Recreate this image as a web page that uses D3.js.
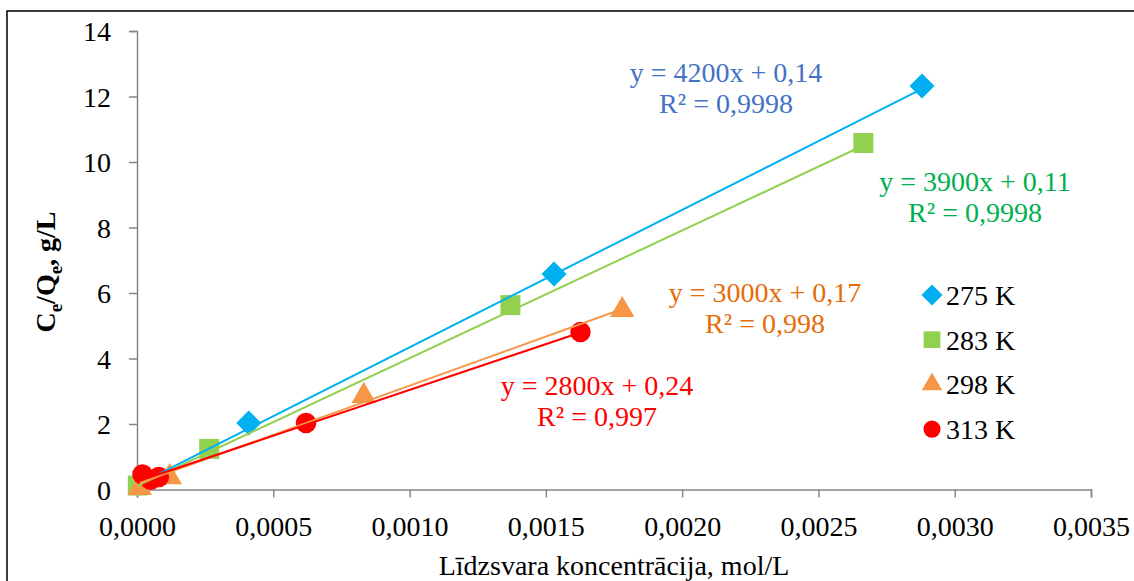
<!DOCTYPE html>
<html>
<head>
<meta charset="utf-8">
<script src="https://cdn.jsdelivr.net/npm/d3@7"></script>
<style>
  body { margin: 0; background: #fff; }
  svg { display: block; font-family: "Liberation Serif", "Times New Roman", serif; }
</style>
</head>
<body>
<div id="chart"></div>
<script>
/* séries : température, concentration d'équilibre, Ce/Qe */
let series = ['275 K', '283 K', '298 K', '313 K'];
let x275 = [0.00003, 0.00041, 0.00153, 0.00288];
let y275 = [0.30, 2.03, 6.58, 12.32];
let x283 = [0.000003, 0.000265, 0.00137, 0.002665];
let y283 = [0.12, 1.24, 5.63, 10.58];
let x298 = [0.00001, 0.00012, 0.000832, 0.00178];
let y298 = [0.05, 0.38, 2.86, 5.48];
let x313 = [0.00002, 0.00008, 0.00005, 0.00062, 0.001627];
let y313 = [0.46, 0.38, 0.30, 2.03, 4.81];

/* droites de tendance */
let slopes = [4200, 3900, 3000, 2800];
let intercepts = [0.14, 0.11, 0.17, 0.24];
let equations = ['y = 4200x + 0,14', 'y = 3900x + 0,11', 'y = 3000x + 0,17', 'y = 2800x + 0,24'];
let rSquared = ['R² = 0,9998', 'R² = 0,9998', 'R² = 0,998', 'R² = 0,997'];

let xTicks = [0, 0.0005, 0.0010, 0.0015, 0.0020, 0.0025, 0.0030, 0.0035];
let yTicks = [0, 2, 4, 6, 8, 10, 12, 14];

let xs = [x275, x283, x298, x313];
let ys = [y275, y283, y298, y313];
let markerColors = ['#00B0F0', '#92D050', '#F79646', '#FF0000'];
let textColors = ['#4472C4', '#00B050', '#E46C0A', '#FF0000'];
let symbols = [d3.symbolDiamond2, d3.symbolSquare, d3.symbolTriangle, d3.symbolCircle];
let symbolSizes = [400, 400, 260, 330];

let width = 1134,
    height = 581;

let svg = d3.select('#chart').
append('svg').
attr('width', width).
attr('height', height);

/* cadre */
svg.append('rect').
attr('x', 7).
attr('y', 11).
attr('width', 1160).
attr('height', 620).
style('fill', 'none').
style('stroke', '#000').
style('stroke-width', 1.5);

let xScale = d3.scaleLinear().
domain([0, 0.0035]).
range([137, 1091]);

let yScale = d3.scaleLinear().
domain([0, 14]).
range([489.5, 31]);

/* axes */
let xAxis = d3.axisBottom(xScale).
tickValues(xTicks).
tickSize(8).
tickPadding(19).
tickFormat((d) => d.toFixed(4).replace('.', ','));

let xAxisGroup = svg.append('g').
attr('transform', 'translate(0,' + yScale(0) + ')').
call(xAxis);

let yAxis = d3.axisLeft(yScale).
tickValues(yTicks).
tickSize(8).
tickPadding(18).
tickFormat((d) => d);

let yAxisGroup = svg.append('g').
attr('transform', 'translate(' + xScale(0) + ',0)').
call(yAxis);

[xAxisGroup, yAxisGroup].forEach((g) => {
  g.select('.domain').style('stroke', '#868686').style('stroke-width', 1.5);
  g.selectAll('.tick line').style('stroke', '#868686').style('stroke-width', 1.5);
  g.selectAll('.tick text').
  style('font-family', '"Liberation Serif", serif').
  style('font-size', '28px').
  style('fill', '#000');
});
yAxisGroup.selectAll('.tick text').attr('dy', '0.34em');

/* points */
series.forEach((name, s) => {
  svg.append('g').
  selectAll('path').
  data(xs[s]).
  enter().
  append('path').
  attr('transform', (d, i) => 'translate(' + xScale(d) + ',' + yScale(ys[s][i]) + ')').
  attr('d', d3.symbol().type(symbols[s]).size(symbolSizes[s])).
  style('fill', markerColors[s]);
});

/* droites de tendance */
series.forEach((name, s) => {
  let x0 = d3.min(xs[s]),
      x1 = d3.max(xs[s]);
  svg.append('line').
  attr('x1', xScale(x0)).
  attr('y1', yScale(slopes[s] * x0 + intercepts[s])).
  attr('x2', xScale(x1)).
  attr('y2', yScale(slopes[s] * x1 + intercepts[s])).
  style('stroke', markerColors[s]).
  style('stroke-width', 2);
});

/* équations */
let eqPos = [[726, 82], [975, 191], [765, 302], [597, 395]];
series.forEach((name, s) => {
  let t = svg.append('text').
  attr('text-anchor', 'middle').
  style('font-size', '28px').
  style('fill', textColors[s]);
  t.append('tspan').
  attr('x', eqPos[s][0]).
  attr('y', eqPos[s][1]).
  text(equations[s]);
  t.append('tspan').
  attr('x', eqPos[s][0]).
  attr('y', eqPos[s][1] + 31).
  text(rSquared[s]);
});

/* légende */
let legend = svg.append('g').
attr('transform', 'translate(932, 295)');
series.forEach((name, s) => {
  let row = legend.append('g').
  attr('transform', 'translate(0,' + s * 44.7 + ')');
  row.append('path').
  attr('d', d3.symbol().type(symbols[s]).size(symbolSizes[s] * 0.7)).
  style('fill', markerColors[s]);
  row.append('text').
  attr('x', 14).
  attr('y', 10).
  style('font-size', '28px').
  text(name);
});

/* titres des axes */
svg.append('text').
attr('x', 614).
attr('y', 575).
attr('text-anchor', 'middle').
style('font-size', '28px').
text('Līdzsvara koncentrācija, mol/L');

let yTitle = svg.append('text').
attr('transform', 'translate(55,272) rotate(-90)').
attr('text-anchor', 'middle').
style('font-size', '28px').
style('font-weight', 'bold');
yTitle.append('tspan').text('C');
yTitle.append('tspan').attr('dy', 7).style('font-size', '19px').text('e');
yTitle.append('tspan').attr('dy', -7).text('/Q');
yTitle.append('tspan').attr('dy', 7).style('font-size', '19px').text('e');
yTitle.append('tspan').attr('dy', -7).text(', g/L');
</script>
</body>
</html>
